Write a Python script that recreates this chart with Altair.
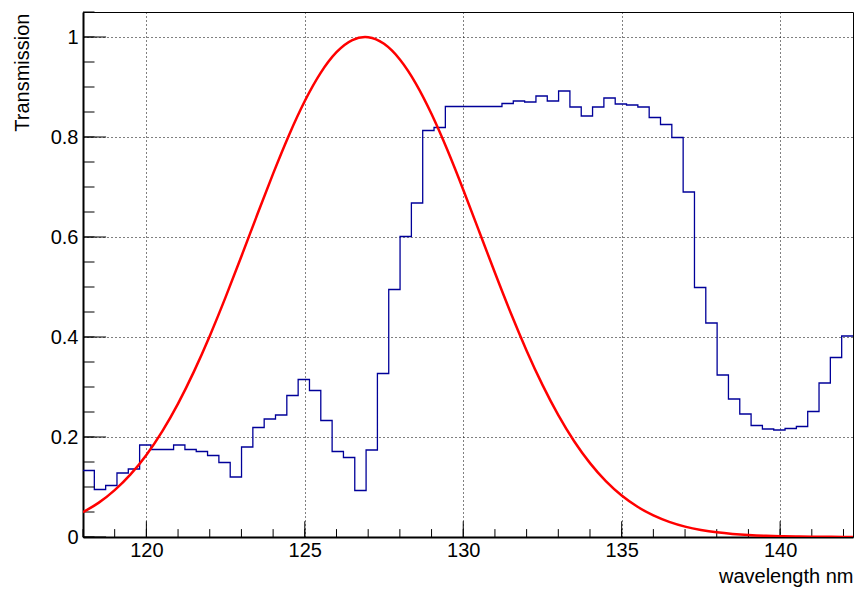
import altair as alt
import numpy as np
import pandas as pd

# Measured transmission histogram: 68 equal bins from 118.0 to 142.3 nm
BIN_LO = 118.0
BIN_HI = 142.3
transmission = [
    0.133, 0.095, 0.103, 0.128, 0.136, 0.184, 0.175, 0.175, 0.184, 0.175,
    0.171, 0.163, 0.149, 0.120, 0.180, 0.219, 0.236, 0.244, 0.283, 0.315,
    0.293, 0.233, 0.171, 0.159, 0.093, 0.174, 0.327, 0.495, 0.601, 0.668,
    0.813, 0.819, 0.861, 0.861, 0.861, 0.861, 0.861, 0.867, 0.872, 0.870,
    0.882, 0.872, 0.892, 0.860, 0.842, 0.860, 0.878, 0.866, 0.864, 0.860,
    0.839, 0.825, 0.799, 0.690, 0.499, 0.428, 0.324, 0.276, 0.246, 0.223,
    0.216, 0.214, 0.217, 0.221, 0.251, 0.308, 0.359, 0.402,
]

# Filter response curve sampled every 0.5 nm
curve_wl = [
    118.0, 118.5, 119.0, 119.5, 120.0, 120.5, 121.0, 121.5, 122.0, 122.5,
    123.0, 123.5, 124.0, 124.5, 125.0, 125.5, 126.0, 126.5, 127.0, 127.5,
    128.0, 128.5, 129.0, 129.5, 130.0, 130.5, 131.0, 131.5, 132.0, 132.5,
    133.0, 133.5, 134.0, 134.5, 135.0, 135.5, 136.0, 136.5, 137.0, 137.5,
    138.0, 138.5, 139.0, 139.5, 140.0, 140.5, 141.0, 141.5, 142.0, 142.3,
]
curve_val = [
    0.0495, 0.0687, 0.0937, 0.1252, 0.1642, 0.2114, 0.2669, 0.3307, 0.4021, 0.4797,
    0.5615, 0.6449, 0.7268, 0.8037, 0.8720, 0.9283, 0.9697, 0.9939, 0.9996, 0.9864,
    0.9551, 0.9074, 0.8459, 0.7738, 0.6945, 0.6115, 0.5284, 0.4480, 0.3727, 0.3042,
    0.2437, 0.1915, 0.1477, 0.1117, 0.0829, 0.0604, 0.0432, 0.0303, 0.0208, 0.0141,
    0.0093, 0.0061, 0.0039, 0.0024, 0.0015, 0.0009, 0.0005, 0.0003, 0.0002, 0.0001,
]

# Axis tick positions
x_major = [120, 125, 130, 135, 140]
x_minor = list(range(118, 143))
y_major = [0, 0.2, 0.4, 0.6, 0.8, 1.0]
y_minor = [round(0.05 * i, 2) for i in range(0, 22)]

W, H = 770, 525
FONT = "Liberation Sans"

edges = np.linspace(BIN_LO, BIN_HI, len(transmission) + 1)
hist_df = pd.DataFrame({
    "wl": edges,
    "t": transmission + [transmission[-1]],
})
curve_df = pd.DataFrame({"wl": curve_wl, "t": curve_val})

xscale = alt.Scale(domain=[BIN_LO, BIN_HI], nice=False, zero=False)
yscale = alt.Scale(domain=[0, 1.05], nice=False, zero=False)

x_axis = alt.Axis(
    values=x_major, format="d", ticks=False, labelPadding=3,
    grid=True, gridDash=[1, 3], gridColor="black", gridOpacity=1, gridWidth=1,
    domainColor="black", domainWidth=2,
    title="wavelength nm", titleAnchor="end", titleAlign="right",
    titleX=W, titleY=45, titleBaseline="alphabetic",
)
y_axis = alt.Axis(
    values=y_major, format="~g", ticks=False, labelPadding=5,
    grid=True, gridDash=[1, 3], gridColor="black", gridOpacity=1, gridWidth=1,
    domainColor="black", domainWidth=2,
    title="Transmission", titleAngle=270, titleAlign="right",
    titleAnchor="end", titleX=-55, titleY=1, titleBaseline="alphabetic",
)

hist = alt.Chart(hist_df).mark_line(
    interpolate="step-after", color="#000099", strokeWidth=1.3, clip=True
).encode(
    x=alt.X("wl:Q", scale=xscale, axis=x_axis, title="wavelength nm"),
    y=alt.Y("t:Q", scale=yscale, axis=y_axis, title="Transmission"),
)

curve = alt.Chart(curve_df).mark_line(
    interpolate="natural", color="#ff0000", strokeWidth=2.5, clip=True
).encode(
    x=alt.X("wl:Q", scale=xscale, axis=x_axis, title="wavelength nm"),
    y=alt.Y("t:Q", scale=yscale, axis=y_axis, title="Transmission"),
)

def xticks(vals, length):
    return alt.Chart(pd.DataFrame({"wl": vals})).mark_rule(
        color="black", strokeWidth=1
    ).encode(
        x=alt.X("wl:Q", scale=xscale, axis=x_axis, title="wavelength nm"),
        y=alt.value(H),
        y2=alt.value(H - length),
    )

def yticks(vals, length):
    return alt.Chart(pd.DataFrame({"t": vals})).mark_rule(
        color="black", strokeWidth=1
    ).encode(
        y=alt.Y("t:Q", scale=yscale, axis=y_axis, title="Transmission"),
        x=alt.value(0),
        x2=alt.value(length),
    )

chart = alt.layer(
    hist,
    xticks(x_minor, 7.9), xticks(x_major, 15.75),
    yticks(y_minor, 11.5), yticks(y_major, 23.1),
    curve,
).properties(
    width=W, height=H,
    padding={"left": 83, "top": 12, "right": 3, "bottom": 52},
    autosize=alt.AutoSizeParams(type="none"),
    background="white",
).configure_view(
    stroke="black", strokeWidth=1
).configure_axis(
    labelFont=FONT, labelFontSize=20, labelColor="black",
    titleFont=FONT, titleFontSize=20, titleColor="black", titleFontWeight="normal",
)

chart.save("out.html", embed_options={"renderer": "svg", "actions": False})
